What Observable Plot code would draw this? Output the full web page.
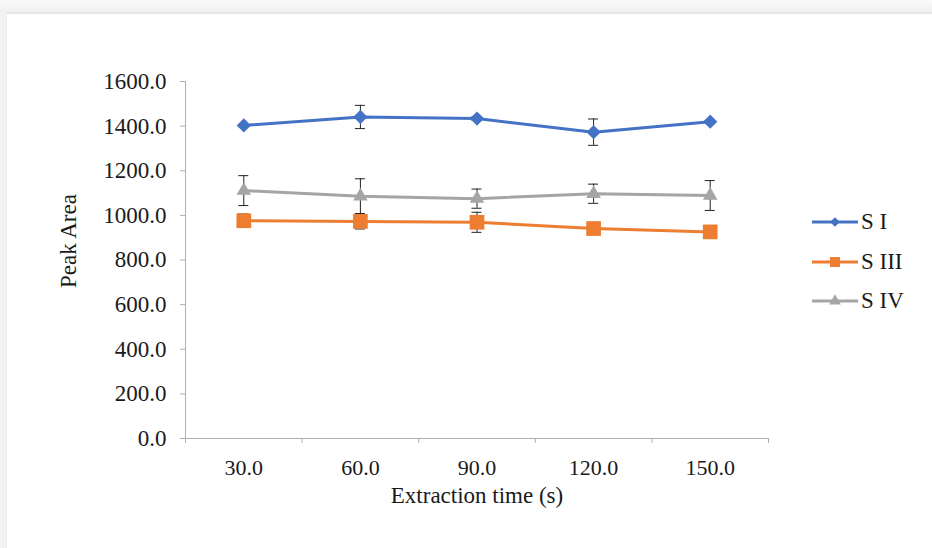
<!DOCTYPE html>
<html>
<head>
<meta charset="utf-8">
<script src="https://cdn.jsdelivr.net/npm/d3@7"></script>
<script src="https://cdn.jsdelivr.net/npm/@observablehq/plot@0.6"></script>
<style>
  html, body { margin: 0; padding: 0; background: #fff; }
  #wrap { position: relative; width: 932px; height: 548px; overflow: hidden;
          background: linear-gradient(#fafafa, #f2f2f2 10px); }
  #card { position: absolute; left: 6px; top: 12px; right: 0; bottom: 0; background: #fff;
          border-top: 2px solid #e6e6e6; border-left: 1px solid #ebebeb; }
  #chart { position: absolute; left: 0; top: 0; }
  #legend { position: absolute; left: 812px; top: 0; font-family: "Liberation Serif", serif;
            font-size: 23px; color: #1a1a1a; }
  .item { position: absolute; left: 0; display: flex; align-items: center; white-space: nowrap; }
  .item svg { display: block; }
  .item span { margin-left: 2px; }
</style>
</head>
<body>
<div id="wrap">
  <div id="card"></div>
  <div id="chart"></div>
  <div id="legend"></div>
</div>
<script>
// ---- data ----
const times = ["30.0", "60.0", "90.0", "120.0", "150.0"];
const seriesNames = ["S I", "S III", "S IV"];
const sI = [1403, 1441, 1434, 1373, 1420];
const sIErr = [5, 52, 8, 59, 6];
const sIII = [976, 973, 969, 941, 926];
const sIIIErr = [30, 34, 45, 8, 8];
const sIV = [1111, 1086, 1075, 1097, 1089];
const sIVErr = [67, 78, 43, 43, 67];
const yTicks = [0, 200, 400, 600, 800, 1000, 1200, 1400, 1600];
const xLabel = "Extraction time (s)";
const yLabel = "Peak Area";

// ---- styles ----
const colors = ["#4472C4", "#ED7D31", "#A5A5A5"];
const symbols = ["diamond2", "square", "triangle"];
const radii = [6.4, 8.3, 5.4];
const axisColor = "#b0b0b0";
const textColor = "#1a1a1a";

const values = [sI, sIII, sIV];
const errs = [sIErr, sIIIErr, sIVErr];
const rows = seriesNames.flatMap((name, s) =>
  times.map((t, i) => ({ s, name, i, x: i + 0.5, y: values[s][i], lo: values[s][i] - errs[s][i], hi: values[s][i] + errs[s][i] }))
);

const marks = [
  Plot.axisY({ ticks: yTicks, tickFormat: d => d.toFixed(1), tickSize: 5, tickPadding: 14,
               stroke: axisColor, fill: textColor, fontSize: 23, label: null }),
  Plot.axisX({ ticks: d3.range(times.length + 1), tickFormat: () => "", tickSize: 5,
               stroke: axisColor, label: null }),
  Plot.axisX({ ticks: times.map((t, i) => i + 0.5), tickFormat: v => times[Math.round(v - 0.5)],
               tickSize: 0, tickPadding: 21, fill: textColor, fontSize: 22, label: null }),
  Plot.frame({ anchor: "left", stroke: axisColor }),
  Plot.frame({ anchor: "bottom", stroke: axisColor }),
  Plot.text([yLabel], { frameAnchor: "left", rotate: -90, textAnchor: "middle", dx: -117, dy: -19, fill: textColor, fontSize: 23 }),
  Plot.text([xLabel], { frameAnchor: "bottom", textAnchor: "middle", dy: 64, fill: textColor, fontSize: 23 }),
  // error bars
  Plot.ruleX(rows, { x: "x", y1: "lo", y2: "hi", stroke: "#222", strokeWidth: 1 }),
  Plot.ruleY(rows, { y: "hi", x1: "x", x2: "x", insetLeft: -5, insetRight: -5, stroke: "#222", strokeWidth: 1 }),
  Plot.ruleY(rows, { y: "lo", x1: "x", x2: "x", insetLeft: -5, insetRight: -5, stroke: "#222", strokeWidth: 1 })
];
seriesNames.forEach((name, s) => {
  const d = rows.filter(r => r.s === s);
  marks.push(Plot.line(d, { x: "x", y: "y", stroke: colors[s], strokeWidth: 3 }));
  marks.push(Plot.dot(d, { x: "x", y: "y", symbol: () => symbols[s], r: radii[s], fill: colors[s], stroke: "none" }));
});

const chart = Plot.plot({
  width: 932, height: 548,
  marginLeft: 185, marginRight: 164, marginTop: 81, marginBottom: 110,
  style: { fontFamily: "'Liberation Serif', serif", fontSize: "22px", background: "transparent", overflow: "visible" },
  x: { type: "linear", domain: [0, times.length] },
  y: { domain: [0, 1600] },
  symbol: { type: "identity" },
  marks
});
document.getElementById("chart").appendChild(chart);

// ---- legend ----
const legend = document.getElementById("legend");
const legendTops = [222, 262, 301];
const lsym = [d3.symbolDiamond2, d3.symbolSquare, d3.symbolTriangle];
const lsize = [60, 100, 60];
seriesNames.forEach((name, s) => {
  const item = document.createElement("div");
  item.className = "item";
  item.style.top = (legendTops[s] - 13) + "px";
  const svg = d3.create("svg").attr("width", 47).attr("height", 26);
  svg.append("line").attr("x1", 0).attr("x2", 46).attr("y1", 13).attr("y2", 13)
     .attr("stroke", colors[s]).attr("stroke-width", 3);
  svg.append("path").attr("d", d3.symbol(lsym[s], lsize[s])()).attr("transform", "translate(23,13)")
     .attr("fill", colors[s]);
  item.appendChild(svg.node());
  const span = document.createElement("span");
  span.textContent = name;
  item.appendChild(span);
  legend.appendChild(item);
});
</script>
</body>
</html>
